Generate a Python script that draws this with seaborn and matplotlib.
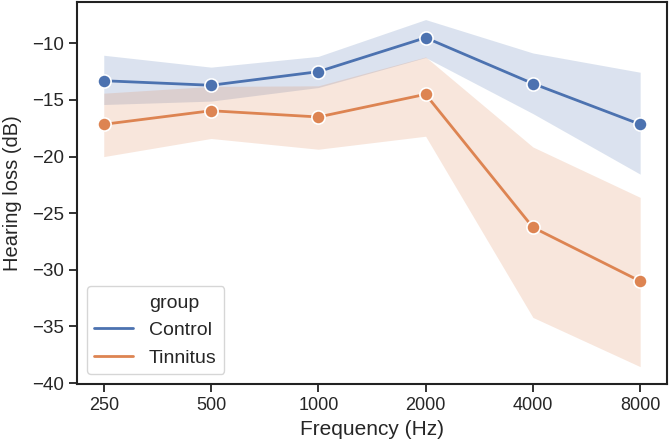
import matplotlib
matplotlib.use("Agg")
import matplotlib.pyplot as plt
import matplotlib.ticker as mticker
from matplotlib.lines import Line2D
import seaborn as sns
import pandas as pd
import numpy as np

freqs = [250, 500, 1000, 2000, 4000, 8000]
groups = ["Control", "Tinnitus"]
control_mean = [-13.3, -13.7, -12.5, -9.5, -13.55, -17.15]
control_low = [-15.4, -15.1, -13.9, -11.25, -16.2, -21.55]
control_high = [-11.05, -12.1, -11.15, -7.9, -10.85, -12.55]
tinnitus_mean = [-17.15, -15.95, -16.5, -14.5, -26.25, -31.0]
tinnitus_low = [-20.0, -18.4, -19.35, -18.2, -34.2, -38.55]
tinnitus_high = [-14.4, -13.8, -13.75, -11.2, -19.15, -23.6]

sns.set_theme(style="ticks")
plt.rcParams["font.family"] = ["Liberation Sans", "DejaVu Sans"]

df = pd.DataFrame({
    "freq": freqs * 2,
    "loss": control_mean + tinnitus_mean,
    "group": [groups[0]] * len(freqs) + [groups[1]] * len(freqs),
})

palette = sns.color_palette("deep", 2)

fig, ax = plt.subplots(figsize=(6.69, 4.46), dpi=100)
fig.subplots_adjust(left=0.115, right=0.997, top=0.995, bottom=0.139)

bands = {"Control": (control_low, control_high), "Tinnitus": (tinnitus_low, tinnitus_high)}
for g, c in zip(groups, palette):
    lo, hi = bands[g]
    ax.fill_between(freqs, lo, hi, color=c, alpha=0.2, linewidth=0)

sns.lineplot(data=df, x="freq", y="loss", hue="group", palette=palette,
             marker="o", markersize=9.5, linewidth=2, markeredgecolor="white",
             markeredgewidth=1.2, ax=ax, legend=False)

ax.set_xscale("log", base=2)
ax.set_xticks(freqs)
ax.xaxis.set_major_formatter(mticker.FixedFormatter([str(f) for f in freqs]))
ax.xaxis.set_minor_locator(mticker.NullLocator())
ax.set_yticks([-10, -15, -20, -25, -30, -35, -40])

ax.set_xlabel("Frequency (Hz)", fontsize=15)
ax.set_ylabel("Hearing loss (dB)", fontsize=14.5, labelpad=7)
ax.tick_params(labelsize=13, length=6, width=1.3, color="#222222")
ax.tick_params(axis="y", labelsize=13.5)
for s in ax.spines.values():
    s.set_linewidth(1.5)
    s.set_color("#222222")

handles = [Line2D([], [], linestyle="none")] + \
          [Line2D([], [], color=c, linewidth=2) for c in palette]
labels = ["group"] + groups
leg = ax.legend(handles, labels, loc="lower left", fontsize=14,
                handlelength=2.0)

fig.savefig("out.png", dpi=100)
